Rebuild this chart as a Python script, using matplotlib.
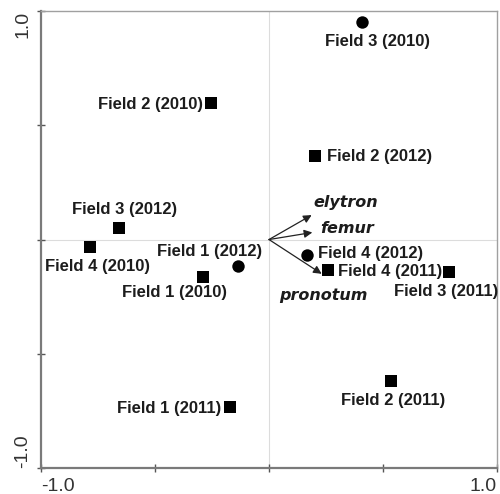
import matplotlib
matplotlib.use("Agg")
import matplotlib.pyplot as plt

# ---- data ----
square_names = ["Field 2 (2010)", "Field 2 (2012)", "Field 3 (2012)", "Field 4 (2010)",
                "Field 1 (2010)", "Field 1 (2011)", "Field 4 (2011)", "Field 3 (2011)",
                "Field 2 (2011)"]
square_x = [-0.254, 0.202, -0.657, -0.785, -0.288, -0.171, 0.257, 0.791, 0.534]
square_y = [0.599, 0.367, 0.049, -0.031, -0.163, -0.732, -0.133, -0.144, -0.618]

circle_names = ["Field 3 (2010)", "Field 1 (2012)", "Field 4 (2012)"]
circle_x = [0.407, -0.137, 0.168]
circle_y = [0.953, -0.115, -0.068]

# label anchor positions (data units) and alignments
label_names = ["Field 3 (2010)", "Field 2 (2010)", "Field 2 (2012)", "Field 3 (2012)",
               "Field 4 (2010)", "Field 1 (2012)", "Field 1 (2010)", "Field 1 (2011)",
               "Field 4 (2012)", "Field 4 (2011)", "Field 3 (2011)", "Field 2 (2011)"]
label_x = [0.474, -0.289, 0.256, -0.633, -0.753, -0.031, -0.414, -0.211, 0.216, 0.304, 0.776, 0.545]
label_y = [0.866, 0.593, 0.362, 0.132, -0.116, -0.053, -0.233, -0.739, -0.060, -0.141, -0.228, -0.705]
label_ha = ["center", "right", "left", "center", "center", "right", "center", "right",
            "left", "left", "center", "center"]

vector_names = ["elytron", "femur", "pronotum"]
vector_x = [0.187, 0.190, 0.231]
vector_y = [0.107, 0.031, -0.150]
vector_label_x = [0.193, 0.224, 0.044]
vector_label_y = [0.160, 0.050, -0.245]

xticks = [-1.0, -0.5, 0.0, 0.5, 1.0]
xtick_labels = ["-1.0", "", "", "", "1.0"]
yticks = [-1.0, -0.5, 0.0, 0.5, 1.0]
ytick_labels = ["-1.0", "", "", "", "1.0"]

# ---- figure ----
fig = plt.figure(figsize=(5.0, 4.94), dpi=100)
ax = fig.add_axes([0.082, 0.0526, 0.912, 0.925])
ax.set_xlim(-1, 1)
ax.set_ylim(-1, 1)

ax.axhline(0, color="#dcdcdc", lw=0.8, zorder=0)
ax.axvline(0, color="#dcdcdc", lw=0.8, zorder=0)

txt_color = "#1c1c1c"
ax.scatter(square_x, square_y, marker="s", s=75, color="black", zorder=3, linewidths=0)
ax.scatter(circle_x, circle_y, marker="o", s=80, color="black", zorder=3, linewidths=0)

for n, x, y, ha in zip(label_names, label_x, label_y, label_ha):
    ax.text(x, y, n, ha=ha, va="center", fontsize=12, fontweight="bold",
            family="Liberation Sans", color=txt_color)

for n, x, y, lx, ly in zip(vector_names, vector_x, vector_y, vector_label_x, vector_label_y):
    ax.annotate("", xy=(x, y), xytext=(0, 0),
                arrowprops=dict(arrowstyle="-|>", color="#222222", lw=0.9,
                                mutation_scale=12, shrinkA=0, shrinkB=0))
    ax.text(lx, ly, n, ha="left", va="center", fontsize=11.5, fontweight="bold",
            fontstyle="italic", family="DejaVu Sans", color=txt_color)

for side in ["left", "bottom"]:
    ax.spines[side].set_color("#7a7a7a")
    ax.spines[side].set_linewidth(1.6)
for side in ["top", "right"]:
    ax.spines[side].set_color("#a0a0a0")
    ax.spines[side].set_linewidth(1.0)

ax.set_xticks(xticks)
ax.set_xticklabels(xtick_labels)
ax.set_yticks(yticks)
ax.set_yticklabels(ytick_labels, rotation=90)
ax.tick_params(direction="inout", length=6, width=1, color="#555555",
               labelsize=14, labelcolor="#333333")
ax.tick_params(axis="x", pad=4)
ax.tick_params(axis="y", pad=4)
for lab in ax.get_xticklabels():
    lab.set_family("Liberation Sans")
xl = ax.get_xticklabels()
xl[0].set_ha("left")
xl[-1].set_ha("right")
yl = ax.get_yticklabels()
for lab in yl:
    lab.set_family("Liberation Sans")
yl[0].set_va("bottom")
yl[-1].set_va("top")
for lab in yl:
    lab.set_ha("right")

fig.savefig("out.png", dpi=100)
